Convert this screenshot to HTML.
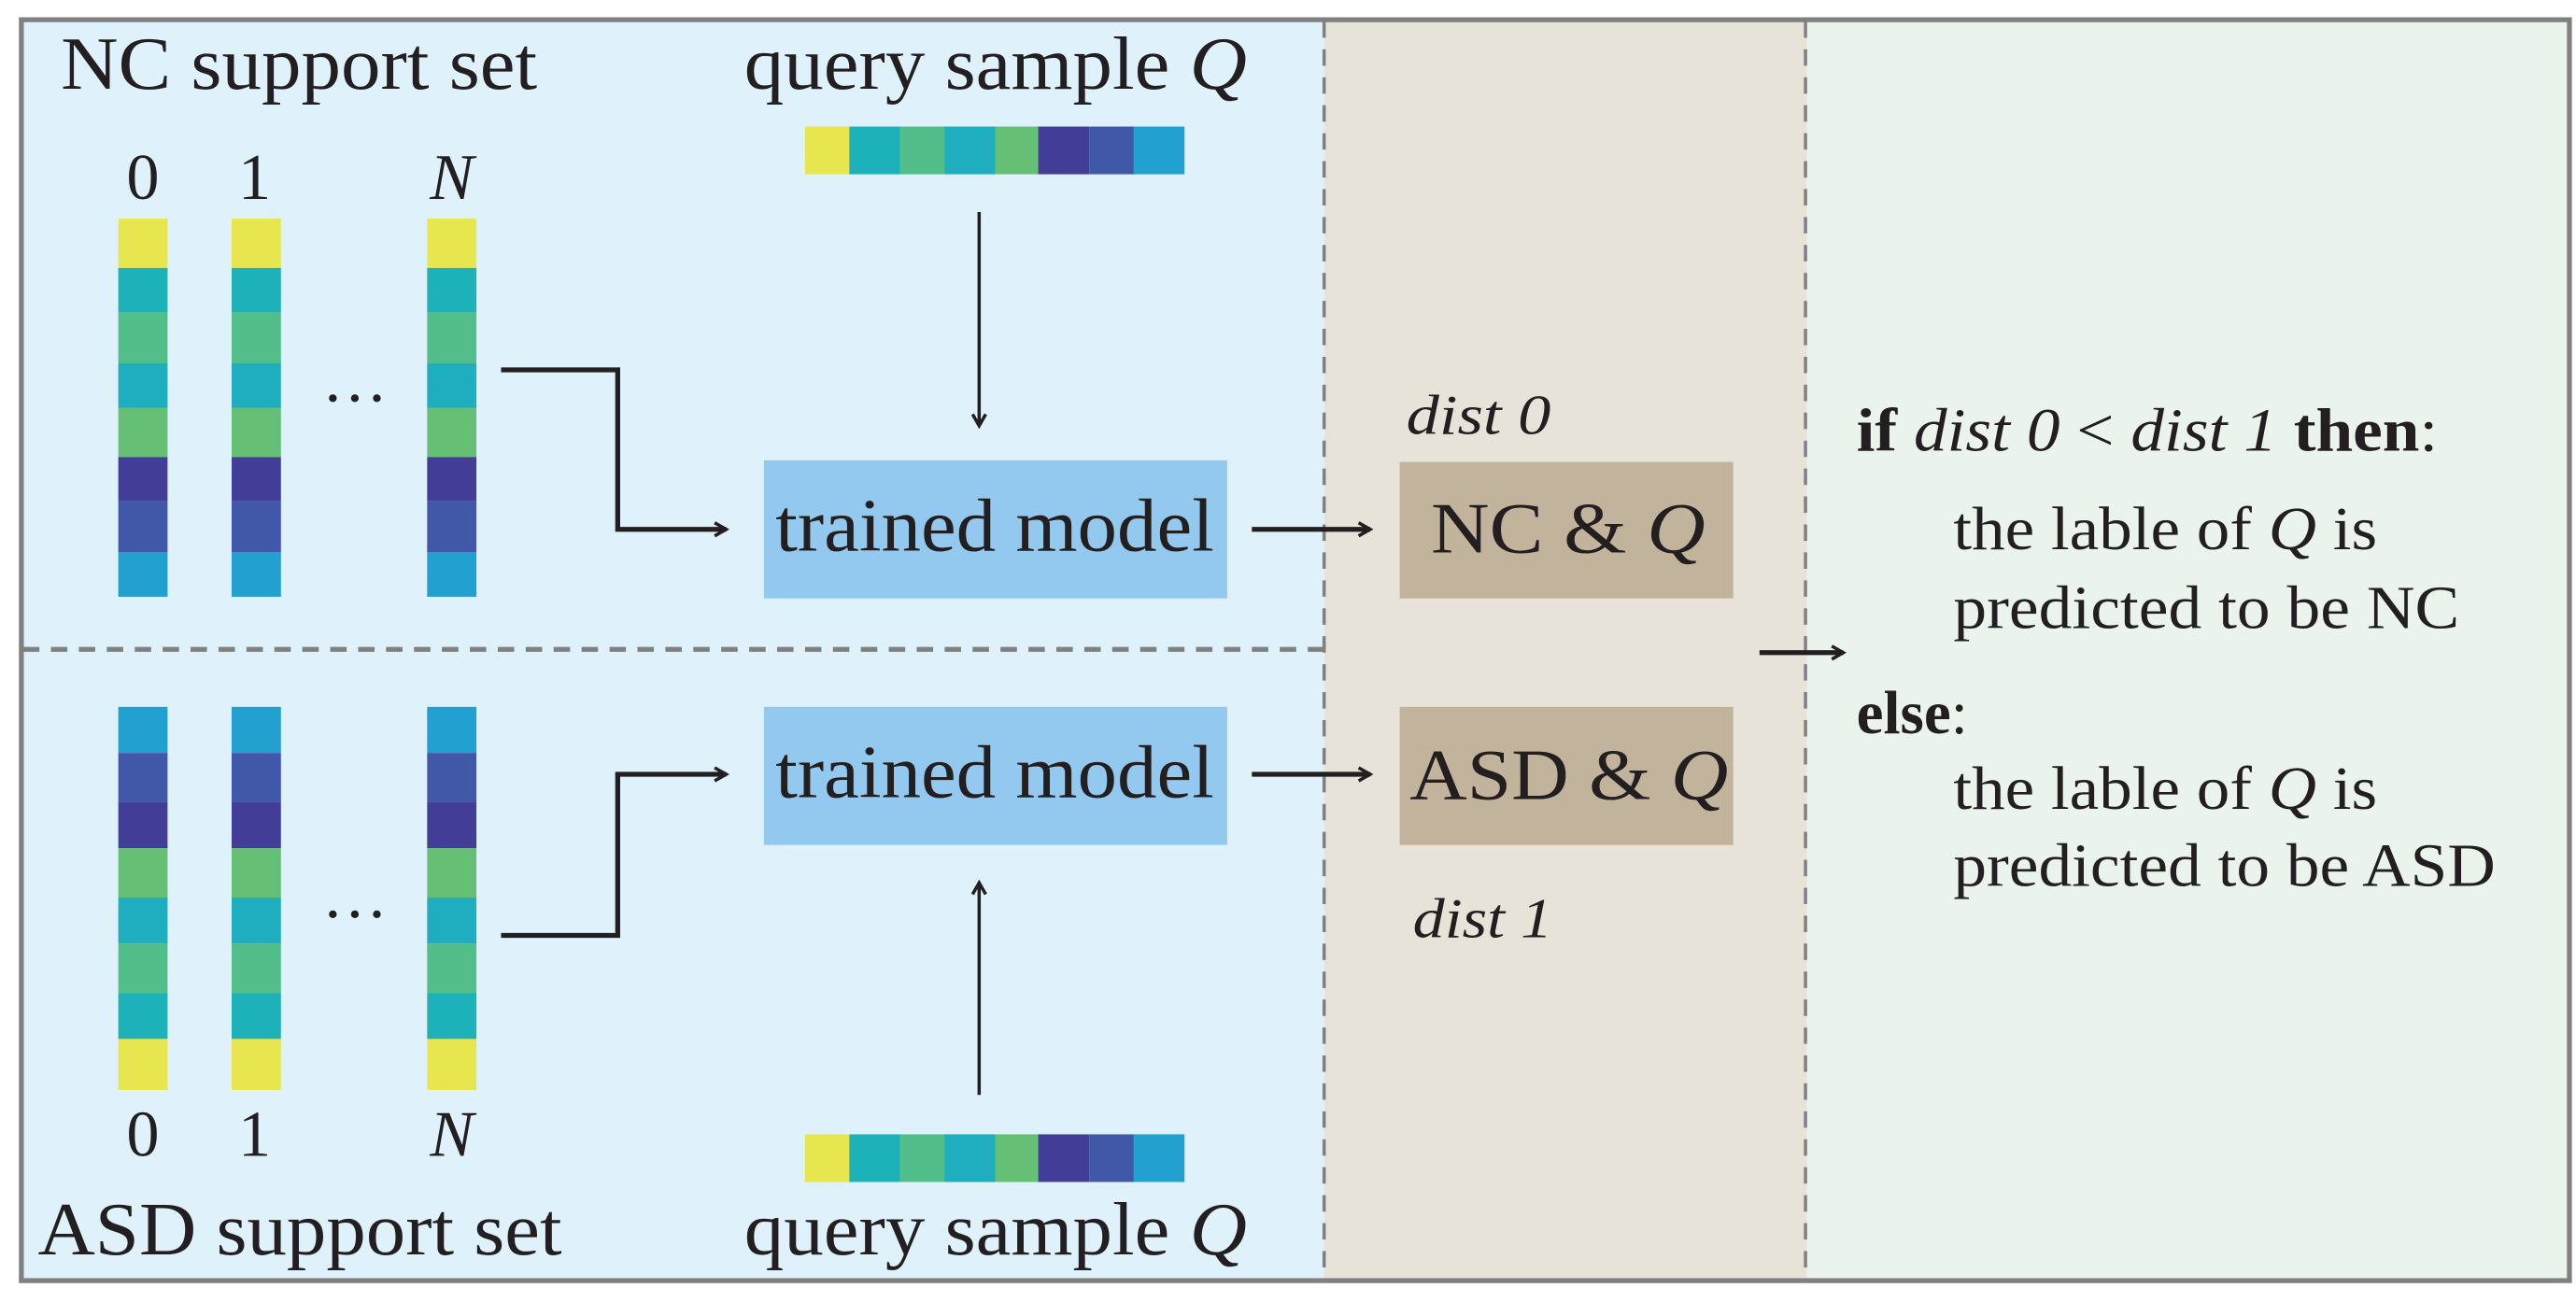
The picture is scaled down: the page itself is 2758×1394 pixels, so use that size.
<!DOCTYPE html>
<html><head><meta charset="utf-8"><style>
html,body{margin:0;padding:0;background:#fff;}
svg{display:block;}
text{font-family:"Liberation Serif",serif;fill:#231f20;}
</style></head><body>
<svg width="2758" height="1394" viewBox="0 0 1568 792" preserveAspectRatio="none" xmlns="http://www.w3.org/2000/svg">
<defs>
<marker id="ah" markerWidth="10" markerHeight="10" refX="8" refY="5" orient="auto" markerUnits="userSpaceOnUse">
<path d="M1,1 L8,5 L1,9" fill="none" stroke="#231f20" stroke-width="2"/>
</marker>
</defs>
<rect x="0" y="0" width="1568" height="792" fill="#fff"/>
<rect x="13" y="12" width="793" height="767" fill="#dff2fc"/>
<rect x="806" y="12" width="294" height="767" fill="#e8e3d9"/>
<rect x="1100" y="12" width="464" height="767" fill="#eaf4ec"/>
<rect x="13" y="12" width="1551" height="767" fill="none" stroke="#808080" stroke-width="3"/>
<line x1="806" y1="13" x2="806" y2="778" stroke="#808080" stroke-width="2" stroke-dasharray="10,7"/>
<line x1="1099" y1="13" x2="1099" y2="778" stroke="#808080" stroke-width="2" stroke-dasharray="10,7"/>
<line x1="14" y1="395" x2="806" y2="395" stroke="#808080" stroke-width="3" stroke-dasharray="10,7"/>

<text x="37" y="54" font-size="46" textLength="290" lengthAdjust="spacingAndGlyphs">NC support set</text>
<text x="453" y="54" font-size="46" textLength="306" lengthAdjust="spacingAndGlyphs">query sample <tspan font-style="italic">Q</tspan></text>
<text x="23" y="763" font-size="46" textLength="319" lengthAdjust="spacingAndGlyphs">ASD support set</text>
<text x="453" y="763" font-size="46" textLength="306" lengthAdjust="spacingAndGlyphs">query sample <tspan font-style="italic">Q</tspan></text>

<g font-size="40" text-anchor="middle">
<text x="87" y="121">0</text><text x="155" y="121">1</text><text x="275" y="121" font-style="italic">N</text>
<text x="87" y="703">0</text><text x="155" y="703">1</text><text x="275" y="703" font-style="italic">N</text>
</g>
<g font-size="40">
<text x="196" y="244">…</text>
<text x="196" y="558">…</text>
</g>

<!-- top query bar -->
<g>
<rect x="490" y="77" width="28" height="29" fill="#e8e64e"/>
<rect x="517" y="77" width="31" height="29" fill="#1db1b9"/>
<rect x="548" y="77" width="28" height="29" fill="#52bf8a"/>
<rect x="575" y="77" width="31" height="29" fill="#1fadc0"/>
<rect x="606" y="77" width="27" height="29" fill="#65bf75"/>
<rect x="632" y="77" width="31" height="29" fill="#423e98"/>
<rect x="663" y="77" width="28" height="29" fill="#4158a8"/>
<rect x="690" y="77" width="31" height="29" fill="#22a0d0"/>
</g>
<g transform="translate(0,613)">
<rect x="490" y="77" width="28" height="29" fill="#e8e64e"/>
<rect x="517" y="77" width="31" height="29" fill="#1db1b9"/>
<rect x="548" y="77" width="28" height="29" fill="#52bf8a"/>
<rect x="575" y="77" width="31" height="29" fill="#1fadc0"/>
<rect x="606" y="77" width="27" height="29" fill="#65bf75"/>
<rect x="632" y="77" width="31" height="29" fill="#423e98"/>
<rect x="663" y="77" width="28" height="29" fill="#4158a8"/>
<rect x="690" y="77" width="31" height="29" fill="#22a0d0"/>
</g>

<!-- NC columns -->
<g id="nccol">
<rect x="72" y="133" width="30" height="30" fill="#e8e64e"/>
<rect x="72" y="163" width="30" height="27" fill="#1db1b9"/>
<rect x="72" y="190" width="30" height="31" fill="#52bf8a"/>
<rect x="72" y="221" width="30" height="27" fill="#1fadc0"/>
<rect x="72" y="248" width="30" height="30" fill="#65bf75"/>
<rect x="72" y="278" width="30" height="27" fill="#423e98"/>
<rect x="72" y="305" width="30" height="31" fill="#4158a8"/>
<rect x="72" y="336" width="30" height="27" fill="#22a0d0"/>
</g>
<use href="#nccol" x="69"/>
<use href="#nccol" x="188"/>

<!-- ASD columns -->
<g id="asdcol">
<rect x="72" y="430" width="30" height="28" fill="#22a0d0"/>
<rect x="72" y="458" width="30" height="30" fill="#4158a8"/>
<rect x="72" y="488" width="30" height="28" fill="#423e98"/>
<rect x="72" y="516" width="30" height="30" fill="#65bf75"/>
<rect x="72" y="546" width="30" height="28" fill="#1fadc0"/>
<rect x="72" y="574" width="30" height="30" fill="#52bf8a"/>
<rect x="72" y="604" width="30" height="28" fill="#1db1b9"/>
<rect x="72" y="632" width="30" height="31" fill="#e8e64e"/>
</g>
<use href="#asdcol" x="69"/>
<use href="#asdcol" x="188"/>

<!-- model boxes -->
<rect x="465" y="280" width="282" height="84" fill="#93c9ee"/>
<rect x="465" y="430" width="282" height="84" fill="#93c9ee"/>
<text x="472" y="335" font-size="46" textLength="267" lengthAdjust="spacingAndGlyphs">trained model</text>
<text x="472" y="485" font-size="46" textLength="267" lengthAdjust="spacingAndGlyphs">trained model</text>

<rect x="852" y="281" width="203" height="83" fill="#c2b49c"/>
<rect x="852" y="430" width="203" height="84" fill="#c2b49c"/>
<text x="871" y="336" font-size="44" textLength="167" lengthAdjust="spacingAndGlyphs">NC &amp; <tspan font-style="italic">Q</tspan></text>
<text x="858" y="486" font-size="44" textLength="194" lengthAdjust="spacingAndGlyphs">ASD &amp; <tspan font-style="italic">Q</tspan></text>
<text x="856" y="264" font-size="34" font-style="italic" textLength="88" lengthAdjust="spacingAndGlyphs">dist 0</text>
<text x="860" y="570" font-size="34" font-style="italic" textLength="85" lengthAdjust="spacingAndGlyphs">dist 1</text>

<!-- connectors -->
<g fill="none" stroke="#231f20">
<path d="M305,225 H376 V322 H442" stroke-width="3" marker-end="url(#ah)"/>
<path d="M305,569 H376 V471 H442" stroke-width="3" marker-end="url(#ah)"/>
<path d="M596,129 V259" stroke-width="2" marker-end="url(#ah)"/>
<path d="M596,666 V537" stroke-width="2" marker-end="url(#ah)"/>
<path d="M762,322 H834" stroke-width="3" marker-end="url(#ah)"/>
<path d="M762,471 H834" stroke-width="3" marker-end="url(#ah)"/>
<path d="M1071,397 H1122" stroke-width="3" marker-end="url(#ah)"/>
</g>

<!-- right text -->
<g font-size="37">
<text x="1130" y="274" textLength="354" lengthAdjust="spacingAndGlyphs"><tspan font-weight="bold">if</tspan> <tspan font-style="italic">dist 0</tspan> &lt; <tspan font-style="italic">dist 1</tspan> <tspan font-weight="bold">then</tspan>:</text>
<text x="1189" y="334" textLength="258" lengthAdjust="spacingAndGlyphs">the lable of <tspan font-style="italic">Q</tspan> is</text>
<text x="1189" y="382" textLength="308" lengthAdjust="spacingAndGlyphs">predicted to be NC</text>
<text x="1130" y="446" font-weight="bold">else<tspan font-weight="normal">:</tspan></text>
<text x="1189" y="492" textLength="258" lengthAdjust="spacingAndGlyphs">the lable of <tspan font-style="italic">Q</tspan> is</text>
<text x="1189" y="539" textLength="330" lengthAdjust="spacingAndGlyphs">predicted to be ASD</text>
</g>
</svg>
</body></html>
